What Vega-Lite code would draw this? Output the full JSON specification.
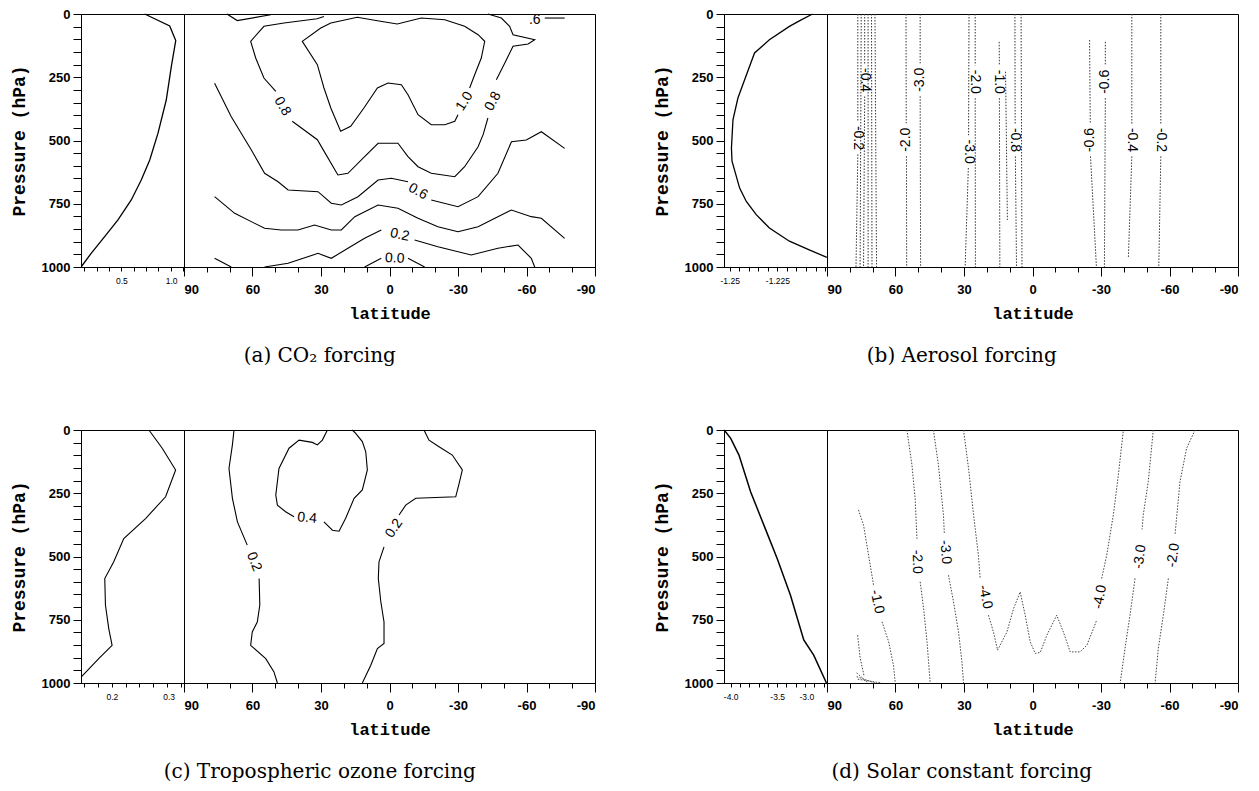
{
  "$schema": "https://vega.github.io/schema/vega-lite/v6.json",
  "background": "white",
  "padding": {"left": 9, "top": 7, "right": 5, "bottom": 5},
  "config": {
    "font": "Liberation Sans",
    "view": {"stroke": "black", "strokeWidth": 1},
    "axis": {"grid": false, "domainColor": "black", "domainWidth": 1, "tickColor": "black", "tickWidth": 1, "labelColor": "black", "titleColor": "black", "labelFont": "Liberation Sans", "labelFontWeight": "bold", "labelFontSize": 13, "labelOverlap": false, "titleFont": "Liberation Mono", "titleFontWeight": "bold"},
    "title": {"font": "DejaVu Serif", "fontSize": 20, "fontWeight": "normal", "color": "black"}
  },
  "datasets": {
    "profiles": [
      {"panel":"a","v":0.689,"p":0},{"panel":"a","v":0.892,"p":47},{"panel":"a","v":0.941,"p":105},{"panel":"a","v":0.905,"p":208},{"panel":"a","v":0.864,"p":340},{"panel":"a","v":0.797,"p":471},{"panel":"a","v":0.730,"p":577},{"panel":"a","v":0.661,"p":656},{"panel":"a","v":0.580,"p":735},{"panel":"a","v":0.472,"p":814},{"panel":"a","v":0.364,"p":880},{"panel":"a","v":0.256,"p":945},{"panel":"a","v":0.174,"p":999},
      {"panel":"b","v":-1.2066,"p":0},{"panel":"b","v":-1.2135,"p":27},{"panel":"b","v":-1.2187,"p":49},{"panel":"b","v":-1.2292,"p":102},{"panel":"b","v":-1.2370,"p":154},{"panel":"b","v":-1.2431,"p":279},{"panel":"b","v":-1.2457,"p":332},{"panel":"b","v":-1.2483,"p":418},{"panel":"b","v":-1.2491,"p":530},{"panel":"b","v":-1.2488,"p":582},{"panel":"b","v":-1.2448,"p":688},{"panel":"b","v":-1.2413,"p":741},{"panel":"b","v":-1.2361,"p":793},{"panel":"b","v":-1.2292,"p":846},{"panel":"b","v":-1.2187,"p":898},{"panel":"b","v":-1.2083,"p":932},{"panel":"b","v":-1.1991,"p":962},
      {"panel":"c","v":0.2539,"p":0},{"panel":"c","v":0.2733,"p":72},{"panel":"c","v":0.2928,"p":158},{"panel":"c","v":0.2782,"p":264},{"panel":"c","v":0.2490,"p":350},{"panel":"c","v":0.2173,"p":429},{"panel":"c","v":0.2027,"p":521},{"panel":"c","v":0.1896,"p":587},{"panel":"c","v":0.1906,"p":692},{"panel":"c","v":0.1954,"p":785},{"panel":"c","v":0.2003,"p":851},{"panel":"c","v":0.1808,"p":904},{"panel":"c","v":0.1555,"p":976},
      {"panel":"d","v":-4.07,"p":0},{"panel":"d","v":-4.0,"p":33},{"panel":"d","v":-3.911,"p":99},{"panel":"d","v":-3.786,"p":244},{"panel":"d","v":-3.643,"p":376},{"panel":"d","v":-3.5,"p":508},{"panel":"d","v":-3.357,"p":653},{"panel":"d","v":-3.214,"p":830},{"panel":"d","v":-3.107,"p":890},{"panel":"d","v":-2.97,"p":1000}
    ],
    "contours": [
      {"panel":"a","line":"a06t","seq":0,"lat":71.2,"p":0},{"panel":"a","line":"a06t","seq":1,"lat":66.7,"p":26},{"panel":"a","line":"a06t","seq":2,"lat":52.0,"p":3},
      {"panel":"a","line":"a06d","seq":0,"lat":-68.0,"p":16},{"panel":"a","line":"a06d","seq":1,"lat":-76.7,"p":16},
      {"panel":"a","line":"a08a","seq":0,"lat":28.7,"p":10},{"panel":"a","line":"a08a","seq":1,"lat":31.7,"p":18.6},{"panel":"a","line":"a08a","seq":2,"lat":46.2,"p":35.6},{"panel":"a","line":"a08a","seq":3,"lat":55.0,"p":48.6},{"panel":"a","line":"a08a","seq":4,"lat":60.8,"p":107.9},{"panel":"a","line":"a08a","seq":5,"lat":58.6,"p":173.9},{"panel":"a","line":"a08a","seq":6,"lat":55.0,"p":253},{"panel":"a","line":"a08a","seq":7,"lat":49.8,"p":305.5},
      {"panel":"a","line":"a08b","seq":0,"lat":42.6,"p":424},{"panel":"a","line":"a08b","seq":1,"lat":31.6,"p":496.8},{"panel":"a","line":"a08b","seq":2,"lat":28.5,"p":545},{"panel":"a","line":"a08b","seq":3,"lat":22.6,"p":636.4},{"panel":"a","line":"a08b","seq":4,"lat":18.2,"p":629.7},{"panel":"a","line":"a08b","seq":5,"lat":10.9,"p":564},{"panel":"a","line":"a08b","seq":6,"lat":5.0,"p":511},{"panel":"a","line":"a08b","seq":7,"lat":-3.7,"p":511},{"panel":"a","line":"a08b","seq":8,"lat":-8.1,"p":564},{"panel":"a","line":"a08b","seq":9,"lat":-12.5,"p":603.6},{"panel":"a","line":"a08b","seq":10,"lat":-18.3,"p":629.7},{"panel":"a","line":"a08b","seq":11,"lat":-28.6,"p":643},{"panel":"a","line":"a08b","seq":12,"lat":-32.9,"p":603.6},{"panel":"a","line":"a08b","seq":13,"lat":-38.8,"p":524.5},{"panel":"a","line":"a08b","seq":14,"lat":-41.0,"p":477},{"panel":"a","line":"a08b","seq":15,"lat":-43.1,"p":411},
      {"panel":"a","line":"a08c","seq":0,"lat":-46.8,"p":259.7},{"panel":"a","line":"a08c","seq":1,"lat":-50.5,"p":193.7},{"panel":"a","line":"a08c","seq":2,"lat":-54.1,"p":127.7},{"panel":"a","line":"a08c","seq":3,"lat":-60.7,"p":118.6},{"panel":"a","line":"a08c","seq":4,"lat":-63.6,"p":101.6},{"panel":"a","line":"a08c","seq":5,"lat":-54.1,"p":81.8},{"panel":"a","line":"a08c","seq":6,"lat":-52.6,"p":48.6},{"panel":"a","line":"a08c","seq":7,"lat":-49.0,"p":15.8},{"panel":"a","line":"a08c","seq":8,"lat":-43.1,"p":0},
      {"panel":"a","line":"a10","seq":0,"lat":-30.0,"p":398},{"panel":"a","line":"a10","seq":1,"lat":-28.6,"p":424},{"panel":"a","line":"a10","seq":2,"lat":-24.2,"p":437.6},{"panel":"a","line":"a10","seq":3,"lat":-18.3,"p":437.6},{"panel":"a","line":"a10","seq":4,"lat":-12.5,"p":398},{"panel":"a","line":"a10","seq":5,"lat":-8.1,"p":319},{"panel":"a","line":"a10","seq":6,"lat":-5.2,"p":279.5},{"panel":"a","line":"a10","seq":7,"lat":0.65,"p":272.7},{"panel":"a","line":"a10","seq":8,"lat":5.3,"p":292.5},{"panel":"a","line":"a10","seq":9,"lat":11.2,"p":371.5},{"panel":"a","line":"a10","seq":10,"lat":17.0,"p":444},{"panel":"a","line":"a10","seq":11,"lat":21.4,"p":463.6},{"panel":"a","line":"a10","seq":12,"lat":25.7,"p":371.5},{"panel":"a","line":"a10","seq":13,"lat":28.7,"p":292.5},{"panel":"a","line":"a10","seq":14,"lat":31.6,"p":200.4},{"panel":"a","line":"a10","seq":15,"lat":38.2,"p":107.9},{"panel":"a","line":"a10","seq":16,"lat":30.1,"p":55.3},{"panel":"a","line":"a10","seq":17,"lat":25.7,"p":35.6},{"panel":"a","line":"a10","seq":18,"lat":14.1,"p":13},{"panel":"a","line":"a10","seq":19,"lat":5.3,"p":26.5},{"panel":"a","line":"a10","seq":20,"lat":-3.4,"p":39.5},{"panel":"a","line":"a10","seq":21,"lat":-13.9,"p":15.8},{"panel":"a","line":"a10","seq":22,"lat":-24.2,"p":22.5},{"panel":"a","line":"a10","seq":23,"lat":-32.9,"p":48.6},{"panel":"a","line":"a10","seq":24,"lat":-38.8,"p":81.8},{"panel":"a","line":"a10","seq":25,"lat":-41.7,"p":107.9},{"panel":"a","line":"a10","seq":26,"lat":-40.2,"p":173.9},{"panel":"a","line":"a10","seq":27,"lat":-37.3,"p":240},{"panel":"a","line":"a10","seq":28,"lat":-35.1,"p":292.5},
      {"panel":"a","line":"a06a","seq":0,"lat":76.6,"p":274},{"panel":"a","line":"a06a","seq":1,"lat":69.3,"p":406},{"panel":"a","line":"a06a","seq":2,"lat":60.5,"p":537.6},{"panel":"a","line":"a06a","seq":3,"lat":54.7,"p":629.7},{"panel":"a","line":"a06a","seq":4,"lat":48.8,"p":663},{"panel":"a","line":"a06a","seq":5,"lat":44.4,"p":695.7},{"panel":"a","line":"a06a","seq":6,"lat":31.3,"p":702.4},{"panel":"a","line":"a06a","seq":7,"lat":25.5,"p":748},{"panel":"a","line":"a06a","seq":8,"lat":21.1,"p":755},{"panel":"a","line":"a06a","seq":9,"lat":13.8,"p":722},{"panel":"a","line":"a06a","seq":10,"lat":5.0,"p":656},{"panel":"a","line":"a06a","seq":11,"lat":-0.8,"p":649.4},{"panel":"a","line":"a06a","seq":12,"lat":-8.1,"p":663},
      {"panel":"a","line":"a06b","seq":0,"lat":-18.3,"p":735},{"panel":"a","line":"a06b","seq":1,"lat":-30.0,"p":761.7},{"panel":"a","line":"a06b","seq":2,"lat":-38.8,"p":722},{"panel":"a","line":"a06b","seq":3,"lat":-47.5,"p":629.7},{"panel":"a","line":"a06b","seq":4,"lat":-53.4,"p":504.8},{"panel":"a","line":"a06b","seq":5,"lat":-59.9,"p":498},{"panel":"a","line":"a06b","seq":6,"lat":-66.5,"p":465.2},{"panel":"a","line":"a06b","seq":7,"lat":-76.7,"p":531},
      {"panel":"a","line":"a04","seq":0,"lat":76.6,"p":722},{"panel":"a","line":"a04","seq":1,"lat":67.8,"p":788},{"panel":"a","line":"a04","seq":2,"lat":54.7,"p":847},{"panel":"a","line":"a04","seq":3,"lat":47.4,"p":853.8},{"panel":"a","line":"a04","seq":4,"lat":40.1,"p":853.8},{"panel":"a","line":"a04","seq":5,"lat":32.8,"p":834},{"panel":"a","line":"a04","seq":6,"lat":25.5,"p":853.8},{"panel":"a","line":"a04","seq":7,"lat":21.1,"p":853.8},{"panel":"a","line":"a04","seq":8,"lat":15.2,"p":801},{"panel":"a","line":"a04","seq":9,"lat":5.0,"p":755},{"panel":"a","line":"a04","seq":10,"lat":-3.7,"p":768},{"panel":"a","line":"a04","seq":11,"lat":-12.5,"p":807.5},{"panel":"a","line":"a04","seq":12,"lat":-21.2,"p":840.7},{"panel":"a","line":"a04","seq":13,"lat":-30.0,"p":860.5},{"panel":"a","line":"a04","seq":14,"lat":-38.8,"p":840.7},{"panel":"a","line":"a04","seq":15,"lat":-53.4,"p":774.7},{"panel":"a","line":"a04","seq":16,"lat":-62.1,"p":801},{"panel":"a","line":"a04","seq":17,"lat":-66.5,"p":807.5},{"panel":"a","line":"a04","seq":18,"lat":-76.7,"p":886.6},
      {"panel":"a","line":"a02a","seq":0,"lat":54.7,"p":1000},{"panel":"a","line":"a02a","seq":1,"lat":44.4,"p":985.4},{"panel":"a","line":"a02a","seq":2,"lat":31.3,"p":946},{"panel":"a","line":"a02a","seq":3,"lat":25.5,"p":965.6},{"panel":"a","line":"a02a","seq":4,"lat":18.2,"p":926},{"panel":"a","line":"a02a","seq":5,"lat":10.9,"p":886.6},{"panel":"a","line":"a02a","seq":6,"lat":3.6,"p":853.8},
      {"panel":"a","line":"a02b","seq":0,"lat":-11.0,"p":893.3},{"panel":"a","line":"a02b","seq":1,"lat":-21.2,"p":920},{"panel":"a","line":"a02b","seq":2,"lat":-35.8,"p":952.6},{"panel":"a","line":"a02b","seq":3,"lat":-47.5,"p":926},{"panel":"a","line":"a02b","seq":4,"lat":-56.3,"p":913},{"panel":"a","line":"a02b","seq":5,"lat":-62.1,"p":965.6},{"panel":"a","line":"a02b","seq":6,"lat":-63.6,"p":1000},
      {"panel":"a","line":"a02s","seq":0,"lat":76.6,"p":965.6},{"panel":"a","line":"a02s","seq":1,"lat":69.3,"p":1000},
      {"panel":"a","line":"a00a","seq":0,"lat":10.9,"p":1000},{"panel":"a","line":"a00a","seq":1,"lat":3.6,"p":965.6},
      {"panel":"a","line":"a00b","seq":0,"lat":-8.1,"p":965.6},{"panel":"a","line":"a00b","seq":1,"lat":-15.4,"p":1000},

      {"panel":"b","line":"b1a","seq":0,"lat":76.5,"p":0},{"panel":"b","line":"b1a","seq":1,"lat":76.5,"p":425},
      {"panel":"b","line":"b1b","seq":0,"lat":76.5,"p":555},{"panel":"b","line":"b1b","seq":1,"lat":77.3,"p":1000},
      {"panel":"b","line":"b2","seq":0,"lat":75.0,"p":0},{"panel":"b","line":"b2","seq":1,"lat":75.5,"p":1000},
      {"panel":"b","line":"b3a","seq":0,"lat":73.5,"p":0},{"panel":"b","line":"b3a","seq":1,"lat":73.5,"p":196},
      {"panel":"b","line":"b3b","seq":0,"lat":73.5,"p":326},{"panel":"b","line":"b3b","seq":1,"lat":74.0,"p":1000},
      {"panel":"b","line":"b4","seq":0,"lat":72.0,"p":0},{"panel":"b","line":"b4","seq":1,"lat":72.0,"p":1000},
      {"panel":"b","line":"b5","seq":0,"lat":70.5,"p":0},{"panel":"b","line":"b5","seq":1,"lat":70.3,"p":1000},
      {"panel":"b","line":"b6","seq":0,"lat":69.0,"p":0},{"panel":"b","line":"b6","seq":1,"lat":68.3,"p":1000},
      {"panel":"b","line":"b7a","seq":0,"lat":55.4,"p":0},{"panel":"b","line":"b7a","seq":1,"lat":55.3,"p":432},
      {"panel":"b","line":"b7b","seq":0,"lat":55.2,"p":562},{"panel":"b","line":"b7b","seq":1,"lat":55.1,"p":1000},
      {"panel":"b","line":"b8a","seq":0,"lat":49.2,"p":0},{"panel":"b","line":"b8a","seq":1,"lat":49.2,"p":195},
      {"panel":"b","line":"b8b","seq":0,"lat":49.2,"p":325},{"panel":"b","line":"b8b","seq":1,"lat":49.0,"p":1000},
      {"panel":"b","line":"b9a","seq":0,"lat":27.8,"p":0},{"panel":"b","line":"b9a","seq":1,"lat":28.0,"p":479},
      {"panel":"b","line":"b9b","seq":0,"lat":28.1,"p":609},{"panel":"b","line":"b9b","seq":1,"lat":29.5,"p":1000},
      {"panel":"b","line":"b10a","seq":0,"lat":25.1,"p":0},{"panel":"b","line":"b10a","seq":1,"lat":25.1,"p":203},
      {"panel":"b","line":"b10b","seq":0,"lat":25.1,"p":333},{"panel":"b","line":"b10b","seq":1,"lat":25.0,"p":1000},
      {"panel":"b","line":"b11a","seq":0,"lat":14.6,"p":110},{"panel":"b","line":"b11a","seq":1,"lat":14.5,"p":203},
      {"panel":"b","line":"b11b","seq":0,"lat":14.5,"p":333},{"panel":"b","line":"b11b","seq":1,"lat":14.3,"p":1000},
      {"panel":"b","line":"b12","seq":0,"lat":11.8,"p":228},{"panel":"b","line":"b12","seq":1,"lat":11.0,"p":814},
      {"panel":"b","line":"b13a","seq":0,"lat":7.7,"p":0},{"panel":"b","line":"b13a","seq":1,"lat":7.6,"p":433},
      {"panel":"b","line":"b13b","seq":0,"lat":7.5,"p":563},{"panel":"b","line":"b13b","seq":1,"lat":7.0,"p":1000},
      {"panel":"b","line":"b14","seq":0,"lat":5.0,"p":0},{"panel":"b","line":"b14","seq":1,"lat":4.6,"p":1000},
      {"panel":"b","line":"b15a","seq":0,"lat":-25.0,"p":103},{"panel":"b","line":"b15a","seq":1,"lat":-25.3,"p":433},
      {"panel":"b","line":"b15b","seq":0,"lat":-25.4,"p":563},{"panel":"b","line":"b15b","seq":1,"lat":-28.0,"p":1000},
      {"panel":"b","line":"b16a","seq":0,"lat":-31.9,"p":110},{"panel":"b","line":"b16a","seq":1,"lat":-31.9,"p":203},
      {"panel":"b","line":"b16b","seq":0,"lat":-31.9,"p":333},{"panel":"b","line":"b16b","seq":1,"lat":-31.5,"p":1000},
      {"panel":"b","line":"b17a","seq":0,"lat":-43.5,"p":0},{"panel":"b","line":"b17a","seq":1,"lat":-43.5,"p":433},
      {"panel":"b","line":"b17b","seq":0,"lat":-43.5,"p":563},{"panel":"b","line":"b17b","seq":1,"lat":-42.0,"p":960},
      {"panel":"b","line":"b18a","seq":0,"lat":-56.2,"p":0},{"panel":"b","line":"b18a","seq":1,"lat":-56.2,"p":433},
      {"panel":"b","line":"b18b","seq":0,"lat":-56.2,"p":563},{"panel":"b","line":"b18b","seq":1,"lat":-55.3,"p":1000},

      {"panel":"c","line":"c02a","seq":0,"lat":68.1,"p":0},{"panel":"c","line":"c02a","seq":1,"lat":68.8,"p":59},{"panel":"c","line":"c02a","seq":2,"lat":70.3,"p":152},{"panel":"c","line":"c02a","seq":3,"lat":68.8,"p":270},{"panel":"c","line":"c02a","seq":4,"lat":66.6,"p":363},{"panel":"c","line":"c02a","seq":5,"lat":62.3,"p":455},
      {"panel":"c","line":"c02b","seq":0,"lat":57.1,"p":587},{"panel":"c","line":"c02b","seq":1,"lat":56.8,"p":692},{"panel":"c","line":"c02b","seq":2,"lat":57.9,"p":759},{"panel":"c","line":"c02b","seq":3,"lat":60.1,"p":798},{"panel":"c","line":"c02b","seq":4,"lat":60.8,"p":851},{"panel":"c","line":"c02b","seq":5,"lat":54.2,"p":904},{"panel":"c","line":"c02b","seq":6,"lat":50.6,"p":956},{"panel":"c","line":"c02b","seq":7,"lat":49.1,"p":1000},
      {"panel":"c","line":"c04a","seq":0,"lat":16.3,"p":0},{"panel":"c","line":"c04a","seq":1,"lat":14.8,"p":13},{"panel":"c","line":"c04a","seq":2,"lat":11.9,"p":46},{"panel":"c","line":"c04a","seq":3,"lat":10.4,"p":86},{"panel":"c","line":"c04a","seq":4,"lat":9.7,"p":158},{"panel":"c","line":"c04a","seq":5,"lat":11.9,"p":237},{"panel":"c","line":"c04a","seq":6,"lat":15.5,"p":270},{"panel":"c","line":"c04a","seq":7,"lat":19.2,"p":349},{"panel":"c","line":"c04a","seq":8,"lat":22.1,"p":400},{"panel":"c","line":"c04a","seq":9,"lat":25.0,"p":396},{"panel":"c","line":"c04a","seq":10,"lat":28.7,"p":363},
      {"panel":"c","line":"c04b","seq":0,"lat":41.8,"p":343},{"panel":"c","line":"c04b","seq":1,"lat":45.5,"p":323},{"panel":"c","line":"c04b","seq":2,"lat":49.1,"p":297},{"panel":"c","line":"c04b","seq":3,"lat":49.8,"p":257},{"panel":"c","line":"c04b","seq":4,"lat":48.4,"p":152},{"panel":"c","line":"c04b","seq":5,"lat":44.0,"p":72},{"panel":"c","line":"c04b","seq":6,"lat":39.6,"p":40},{"panel":"c","line":"c04b","seq":7,"lat":33.8,"p":49},{"panel":"c","line":"c04b","seq":8,"lat":31.6,"p":59},{"panel":"c","line":"c04b","seq":9,"lat":29.4,"p":40},{"panel":"c","line":"c04b","seq":10,"lat":27.9,"p":13},{"panel":"c","line":"c04b","seq":11,"lat":27.2,"p":0},
      {"panel":"c","line":"c02c","seq":0,"lat":-15.1,"p":0},{"panel":"c","line":"c02c","seq":1,"lat":-17.3,"p":40},{"panel":"c","line":"c02c","seq":2,"lat":-21.7,"p":66},{"panel":"c","line":"c02c","seq":3,"lat":-27.5,"p":99},{"panel":"c","line":"c02c","seq":4,"lat":-31.9,"p":158},{"panel":"c","line":"c02c","seq":5,"lat":-30.5,"p":211},{"panel":"c","line":"c02c","seq":6,"lat":-29.0,"p":264},{"panel":"c","line":"c02c","seq":7,"lat":-11.5,"p":270},{"panel":"c","line":"c02c","seq":8,"lat":-7.1,"p":297},{"panel":"c","line":"c02c","seq":9,"lat":-4.2,"p":336},
      {"panel":"c","line":"c02d","seq":0,"lat":2.4,"p":462},{"panel":"c","line":"c02d","seq":1,"lat":4.6,"p":521},{"panel":"c","line":"c02d","seq":2,"lat":4.9,"p":587},{"panel":"c","line":"c02d","seq":3,"lat":3.8,"p":679},{"panel":"c","line":"c02d","seq":4,"lat":2.4,"p":759},{"panel":"c","line":"c02d","seq":5,"lat":2.4,"p":844},{"panel":"c","line":"c02d","seq":6,"lat":5.3,"p":864},{"panel":"c","line":"c02d","seq":7,"lat":8.2,"p":930},{"panel":"c","line":"c02d","seq":8,"lat":11.9,"p":1000},

      {"panel":"d","line":"d1a","seq":0,"lat":76.2,"p":316},{"panel":"d","line":"d1a","seq":1,"lat":74.0,"p":376},{"panel":"d","line":"d1a","seq":2,"lat":71.8,"p":495},{"panel":"d","line":"d1a","seq":3,"lat":69.6,"p":613},
      {"panel":"d","line":"d1b","seq":0,"lat":65.9,"p":758},{"panel":"d","line":"d1b","seq":1,"lat":63.0,"p":837},{"panel":"d","line":"d1b","seq":2,"lat":60.9,"p":930},{"panel":"d","line":"d1b","seq":3,"lat":60.1,"p":1000},
      {"panel":"d","line":"d2a","seq":0,"lat":55.0,"p":0},{"panel":"d","line":"d2a","seq":1,"lat":52.8,"p":138},{"panel":"d","line":"d2a","seq":2,"lat":51.4,"p":270},{"panel":"d","line":"d2a","seq":3,"lat":50.6,"p":430},
      {"panel":"d","line":"d2b","seq":0,"lat":49.2,"p":600},{"panel":"d","line":"d2b","seq":1,"lat":47.7,"p":705},{"panel":"d","line":"d2b","seq":2,"lat":46.2,"p":837},{"panel":"d","line":"d2b","seq":3,"lat":44.8,"p":1000},
      {"panel":"d","line":"d3a","seq":0,"lat":43.4,"p":0},{"panel":"d","line":"d3a","seq":1,"lat":41.2,"p":138},{"panel":"d","line":"d3a","seq":2,"lat":39.0,"p":336},{"panel":"d","line":"d3a","seq":3,"lat":38.6,"p":410},
      {"panel":"d","line":"d3b","seq":0,"lat":36.8,"p":574},{"panel":"d","line":"d3b","seq":1,"lat":34.6,"p":679},{"panel":"d","line":"d3b","seq":2,"lat":32.4,"p":798},{"panel":"d","line":"d3b","seq":3,"lat":30.9,"p":917},{"panel":"d","line":"d3b","seq":4,"lat":30.2,"p":1000},
      {"panel":"d","line":"d4a","seq":0,"lat":30.2,"p":0},{"panel":"d","line":"d4a","seq":1,"lat":28.0,"p":152},{"panel":"d","line":"d4a","seq":2,"lat":25.8,"p":336},{"panel":"d","line":"d4a","seq":3,"lat":23.7,"p":495},{"panel":"d","line":"d4a","seq":4,"lat":22.9,"p":587},
      {"panel":"d","line":"d4b","seq":0,"lat":19.3,"p":732},{"panel":"d","line":"d4b","seq":1,"lat":17.1,"p":798},{"panel":"d","line":"d4b","seq":2,"lat":15.3,"p":870},{"panel":"d","line":"d4b","seq":3,"lat":11.2,"p":798},{"panel":"d","line":"d4b","seq":4,"lat":8.3,"p":706},{"panel":"d","line":"d4b","seq":5,"lat":5.4,"p":640},{"panel":"d","line":"d4b","seq":6,"lat":3.2,"p":732},{"panel":"d","line":"d4b","seq":7,"lat":1.0,"p":837},{"panel":"d","line":"d4b","seq":8,"lat":-1.2,"p":883},{"panel":"d","line":"d4b","seq":9,"lat":-3.4,"p":879},{"panel":"d","line":"d4b","seq":10,"lat":-6.3,"p":811},{"panel":"d","line":"d4b","seq":11,"lat":-10.6,"p":732},{"panel":"d","line":"d4b","seq":12,"lat":-13.5,"p":798},{"panel":"d","line":"d4b","seq":13,"lat":-16.5,"p":877},{"panel":"d","line":"d4b","seq":14,"lat":-20.8,"p":877},{"panel":"d","line":"d4b","seq":15,"lat":-23.8,"p":851},{"panel":"d","line":"d4b","seq":16,"lat":-26.7,"p":785},{"panel":"d","line":"d4b","seq":17,"lat":-28.1,"p":752},
      {"panel":"d","line":"d4c","seq":0,"lat":-30.3,"p":587},{"panel":"d","line":"d4c","seq":1,"lat":-32.5,"p":495},{"panel":"d","line":"d4c","seq":2,"lat":-35.4,"p":336},{"panel":"d","line":"d4c","seq":3,"lat":-37.6,"p":178},{"panel":"d","line":"d4c","seq":4,"lat":-39.8,"p":0},
      {"panel":"d","line":"d5a","seq":0,"lat":-52.9,"p":0},{"panel":"d","line":"d5a","seq":1,"lat":-50.7,"p":204},{"panel":"d","line":"d5a","seq":2,"lat":-48.5,"p":336},{"panel":"d","line":"d5a","seq":3,"lat":-48.0,"p":393},
      {"panel":"d","line":"d5b","seq":0,"lat":-44.9,"p":587},{"panel":"d","line":"d5b","seq":1,"lat":-42.7,"p":732},{"panel":"d","line":"d5b","seq":2,"lat":-40.5,"p":864},{"panel":"d","line":"d5b","seq":3,"lat":-38.4,"p":1000},
      {"panel":"d","line":"d6a","seq":0,"lat":-71.2,"p":0},{"panel":"d","line":"d6a","seq":1,"lat":-67.5,"p":72},{"panel":"d","line":"d6a","seq":2,"lat":-64.6,"p":204},{"panel":"d","line":"d6a","seq":3,"lat":-62.4,"p":415},
      {"panel":"d","line":"d6b","seq":0,"lat":-59.5,"p":587},{"panel":"d","line":"d6b","seq":1,"lat":-57.3,"p":732},{"panel":"d","line":"d6b","seq":2,"lat":-55.1,"p":864},{"panel":"d","line":"d6b","seq":3,"lat":-53.7,"p":1000},
      {"panel":"d","line":"d7","seq":0,"lat":76.6,"p":811},{"panel":"d","line":"d7","seq":1,"lat":75.5,"p":900},{"panel":"d","line":"d7","seq":2,"lat":73.7,"p":975},
      {"panel":"d","line":"d8","seq":0,"lat":77.0,"p":960},{"panel":"d","line":"d8","seq":1,"lat":72.0,"p":1000},
      {"panel":"d","line":"d9","seq":0,"lat":77.0,"p":975},{"panel":"d","line":"d9","seq":1,"lat":69.0,"p":1000},
      {"panel":"d","line":"d10","seq":0,"lat":76.5,"p":985},{"panel":"d","line":"d10","seq":1,"lat":66.0,"p":1000}
    ],
    "labels": [
      {"panel":"a","text":"0.8","lat":46.9,"p":365,"angle":60},
      {"panel":"a","text":"0.8","lat":-45.3,"p":345,"angle":-62},
      {"panel":"a","text":"1.0","lat":-32.9,"p":345,"angle":-58},
      {"panel":"a","text":"0.6","lat":-12.5,"p":702,"angle":30},
      {"panel":"a","text":"0.2","lat":-4.5,"p":873,"angle":12},
      {"panel":"a","text":"0.0","lat":-2.3,"p":966,"angle":3},
      {"panel":"a","text":".6","lat":-63.6,"p":22,"angle":0},
      {"panel":"b","text":"-0.2","lat":76.5,"p":490,"angle":90},
      {"panel":"b","text":"-0.4","lat":73.5,"p":261,"angle":90},
      {"panel":"b","text":"-2.0","lat":55.3,"p":497,"angle":-90},
      {"panel":"b","text":"-3.0","lat":49.2,"p":260,"angle":-90},
      {"panel":"b","text":"-3.0","lat":28.0,"p":544,"angle":90},
      {"panel":"b","text":"-2.0","lat":25.1,"p":268,"angle":90},
      {"panel":"b","text":"-1.0","lat":14.5,"p":268,"angle":90},
      {"panel":"b","text":"-0.8","lat":7.5,"p":498,"angle":90},
      {"panel":"b","text":"-0.6","lat":-25.3,"p":498,"angle":-90},
      {"panel":"b","text":"-0.6","lat":-31.9,"p":268,"angle":-90},
      {"panel":"b","text":"-0.4","lat":-43.5,"p":498,"angle":90},
      {"panel":"b","text":"-0.2","lat":-56.2,"p":498,"angle":90},
      {"panel":"c","text":"0.2","lat":59.3,"p":521,"angle":68},
      {"panel":"c","text":"0.4","lat":36.1,"p":348,"angle":5},
      {"panel":"c","text":"0.2","lat":-2.0,"p":389,"angle":-56},
      {"panel":"d","text":"-1.0","lat":68.1,"p":679,"angle":78},
      {"panel":"d","text":"-2.0","lat":50.6,"p":521,"angle":88},
      {"panel":"d","text":"-3.0","lat":38.2,"p":483,"angle":85},
      {"panel":"d","text":"-4.0","lat":20.7,"p":660,"angle":78},
      {"panel":"d","text":"-4.0","lat":-29.6,"p":660,"angle":-80},
      {"panel":"d","text":"-3.0","lat":-47.1,"p":501,"angle":-82},
      {"panel":"d","text":"-2.0","lat":-61.7,"p":495,"angle":-82}
    ]
  },
  "spacing": 57,
  "vconcat": [
    {
      "spacing": 56,
      "hconcat": [
        {
          "title": {"text": "(a) CO₂ forcing", "orient": "bottom", "anchor": "middle", "offset": 24, "dx": 17},
          "bounds": "flush",
          "spacing": 0,
          "hconcat": [
            {
              "width": 103, "height": 253,
              "data": {"name": "profiles"},
              "transform": [{"filter": "datum.panel === 'a'"}],
              "mark": {"type": "line", "color": "black", "strokeWidth": 1.3},
              "encoding": {
                "x": {"field": "v", "type": "quantitative", "scale": {"domain": [0.172, 1.008], "nice": false, "zero": false},
                      "axis": {"title": null, "values": [0.2,0.3,0.4,0.5,0.6,0.7,0.8,0.9,1.0], "labelExpr": "datum.value === 0.5 || datum.value === 1 ? format(datum.value, '.1f') : ''", "labelFontSize": 8.5, "labelFontWeight": "normal", "tickSize": 4, "labelPadding": 5, "labelFlush": 5, "labelFlushOffset": -6}},
                "y": {"field": "p", "type": "quantitative", "scale": {"domain": [0, 1000], "reverse": true, "nice": false, "zero": false},
                      "axis": {"title": "Pressure (hPa)", "titleFontSize": 18, "titlePadding": 13, "values": [0,50,100,150,200,250,300,350,400,450,500,550,600,650,700,750,800,850,900,950,1000], "labelExpr": "datum.value % 250 === 0 ? toString(datum.value) : ''", "tickSize": 8, "labelPadding": 3}},
                "order": {"field": "p", "type": "quantitative"}
              }
            },
            {
              "width": 411, "height": 253,
              "encoding": {
                "x": {"field": "lat", "type": "quantitative", "scale": {"domain": [90, -90], "nice": false, "zero": false},
                      "axis": {"title": "latitude", "titleFontSize": 17, "titlePadding": 9, "values": [90,80,70,60,50,40,30,20,10,0,-10,-20,-30,-40,-50,-60,-70,-80,-90], "labelExpr": "datum.value % 30 === 0 ? toString(datum.value) : ''", "tickSize": {"condition": {"test": "datum.value % 30 === 0", "value": 9}, "value": 5}, "labelFlush": true, "labelPadding": 7}},
                "y": {"field": "p", "type": "quantitative", "scale": {"domain": [0, 1000], "reverse": true, "nice": false, "zero": false}, "axis": null}
              },
              "layer": [
                {"data": {"name": "contours"}, "transform": [{"filter": "datum.panel === 'a'"}], "mark": {"type": "line", "color": "black", "strokeWidth": 1.1}, "encoding": {"detail": {"field": "line"}, "order": {"field": "seq", "type": "quantitative"}}},
                {"data": {"name": "labels"}, "transform": [{"filter": "datum.panel === 'a'"}], "mark": {"type": "text", "font": "Liberation Sans", "fontSize": 14, "color": "black"}, "encoding": {"text": {"field": "text"}, "angle": {"field": "angle", "type": "quantitative", "scale": null}}}
              ]
            }
          ]
        },
        {
          "title": {"text": "(b) Aerosol forcing", "orient": "bottom", "anchor": "middle", "offset": 24, "dx": 16},
          "bounds": "flush",
          "spacing": 0,
          "hconcat": [
            {
              "width": 103, "height": 253,
              "data": {"name": "profiles"},
              "transform": [{"filter": "datum.panel === 'b'"}],
              "mark": {"type": "line", "color": "black", "strokeWidth": 1.3},
              "encoding": {
                "x": {"field": "v", "type": "quantitative", "scale": {"domain": [-1.253, -1.199], "nice": false, "zero": false},
                      "axis": {"title": null, "values": [-1.25,-1.245,-1.24,-1.235,-1.23,-1.225,-1.22,-1.215,-1.21,-1.205,-1.2], "labelExpr": "datum.value === -1.25 || datum.value === -1.225 ? toString(datum.value) : ''", "labelFontSize": 8.5, "labelFontWeight": "normal", "tickSize": 4, "labelPadding": 5, "labelFlush": false}},
                "y": {"field": "p", "type": "quantitative", "scale": {"domain": [0, 1000], "reverse": true, "nice": false, "zero": false},
                      "axis": {"title": "Pressure (hPa)", "titleFontSize": 18, "titlePadding": 13, "values": [0,50,100,150,200,250,300,350,400,450,500,550,600,650,700,750,800,850,900,950,1000], "labelExpr": "datum.value % 250 === 0 ? toString(datum.value) : ''", "tickSize": 8, "labelPadding": 3}},
                "order": {"field": "p", "type": "quantitative"}
              }
            },
            {
              "width": 411, "height": 253,
              "encoding": {
                "x": {"field": "lat", "type": "quantitative", "scale": {"domain": [90, -90], "nice": false, "zero": false},
                      "axis": {"title": "latitude", "titleFontSize": 17, "titlePadding": 9, "values": [90,80,70,60,50,40,30,20,10,0,-10,-20,-30,-40,-50,-60,-70,-80,-90], "labelExpr": "datum.value % 30 === 0 ? toString(datum.value) : ''", "tickSize": {"condition": {"test": "datum.value % 30 === 0", "value": 9}, "value": 5}, "labelFlush": true, "labelPadding": 7}},
                "y": {"field": "p", "type": "quantitative", "scale": {"domain": [0, 1000], "reverse": true, "nice": false, "zero": false}, "axis": null}
              },
              "layer": [
                {"data": {"name": "contours"}, "transform": [{"filter": "datum.panel === 'b'"}], "mark": {"type": "line", "color": "#333333", "strokeWidth": 1, "strokeDash": [1.5, 1.5]}, "encoding": {"detail": {"field": "line"}, "order": {"field": "seq", "type": "quantitative"}}},
                {"data": {"name": "labels"}, "transform": [{"filter": "datum.panel === 'b'"}], "mark": {"type": "text", "font": "Liberation Sans", "fontSize": 14, "color": "black"}, "encoding": {"text": {"field": "text"}, "angle": {"field": "angle", "type": "quantitative", "scale": null}}}
              ]
            }
          ]
        }
      ]
    },
    {
      "spacing": 56,
      "hconcat": [
        {
          "title": {"text": "(c) Tropospheric ozone forcing", "orient": "bottom", "anchor": "middle", "offset": 24, "dx": 17},
          "bounds": "flush",
          "spacing": 0,
          "hconcat": [
            {
              "width": 103, "height": 253,
              "data": {"name": "profiles"},
              "transform": [{"filter": "datum.panel === 'c'"}],
              "mark": {"type": "line", "color": "black", "strokeWidth": 1.1},
              "encoding": {
                "x": {"field": "v", "type": "quantitative", "scale": {"domain": [0.155, 0.305], "nice": false, "zero": false},
                      "axis": {"title": null, "values": [0.16,0.18,0.2,0.22,0.24,0.26,0.28,0.3], "labelExpr": "datum.value === 0.2 || datum.value === 0.3 ? toString(datum.value) : ''", "labelFontSize": 8.5, "labelFontWeight": "normal", "tickSize": 4, "labelPadding": 5, "labelFlush": 5, "labelFlushOffset": -6}},
                "y": {"field": "p", "type": "quantitative", "scale": {"domain": [0, 1000], "reverse": true, "nice": false, "zero": false},
                      "axis": {"title": "Pressure (hPa)", "titleFontSize": 18, "titlePadding": 13, "values": [0,50,100,150,200,250,300,350,400,450,500,550,600,650,700,750,800,850,900,950,1000], "labelExpr": "datum.value % 250 === 0 ? toString(datum.value) : ''", "tickSize": 8, "labelPadding": 3}},
                "order": {"field": "p", "type": "quantitative"}
              }
            },
            {
              "width": 411, "height": 253,
              "encoding": {
                "x": {"field": "lat", "type": "quantitative", "scale": {"domain": [90, -90], "nice": false, "zero": false},
                      "axis": {"title": "latitude", "titleFontSize": 17, "titlePadding": 9, "values": [90,80,70,60,50,40,30,20,10,0,-10,-20,-30,-40,-50,-60,-70,-80,-90], "labelExpr": "datum.value % 30 === 0 ? toString(datum.value) : ''", "tickSize": {"condition": {"test": "datum.value % 30 === 0", "value": 9}, "value": 5}, "labelFlush": true, "labelPadding": 7}},
                "y": {"field": "p", "type": "quantitative", "scale": {"domain": [0, 1000], "reverse": true, "nice": false, "zero": false}, "axis": null}
              },
              "layer": [
                {"data": {"name": "contours"}, "transform": [{"filter": "datum.panel === 'c'"}], "mark": {"type": "line", "color": "black", "strokeWidth": 1.1}, "encoding": {"detail": {"field": "line"}, "order": {"field": "seq", "type": "quantitative"}}},
                {"data": {"name": "labels"}, "transform": [{"filter": "datum.panel === 'c'"}], "mark": {"type": "text", "font": "Liberation Sans", "fontSize": 14, "color": "black"}, "encoding": {"text": {"field": "text"}, "angle": {"field": "angle", "type": "quantitative", "scale": null}}}
              ]
            }
          ]
        },
        {
          "title": {"text": "(d) Solar constant forcing", "orient": "bottom", "anchor": "middle", "offset": 24, "dx": 16},
          "bounds": "flush",
          "spacing": 0,
          "hconcat": [
            {
              "width": 103, "height": 253,
              "data": {"name": "profiles"},
              "transform": [{"filter": "datum.panel === 'd'"}],
              "mark": {"type": "line", "color": "black", "strokeWidth": 1.5},
              "encoding": {
                "x": {"field": "v", "type": "quantitative", "scale": {"domain": [-4.072, -2.964], "nice": false, "zero": false},
                      "axis": {"title": null, "values": [-4.0,-3.9,-3.8,-3.7,-3.6,-3.5,-3.4,-3.3,-3.2,-3.1,-3.0], "labelExpr": "datum.value === -4 || datum.value === -3.5 || datum.value === -3 ? replace(format(datum.value, '.1f'), '\u2212', '-') : ''", "labelFontSize": 8.5, "labelFontWeight": "normal", "tickSize": 4, "labelPadding": 5, "labelFlush": 5, "labelFlushOffset": -10}},
                "y": {"field": "p", "type": "quantitative", "scale": {"domain": [0, 1000], "reverse": true, "nice": false, "zero": false},
                      "axis": {"title": "Pressure (hPa)", "titleFontSize": 18, "titlePadding": 13, "values": [0,50,100,150,200,250,300,350,400,450,500,550,600,650,700,750,800,850,900,950,1000], "labelExpr": "datum.value % 250 === 0 ? toString(datum.value) : ''", "tickSize": 8, "labelPadding": 3}},
                "order": {"field": "p", "type": "quantitative"}
              }
            },
            {
              "width": 411, "height": 253,
              "encoding": {
                "x": {"field": "lat", "type": "quantitative", "scale": {"domain": [90, -90], "nice": false, "zero": false},
                      "axis": {"title": "latitude", "titleFontSize": 17, "titlePadding": 9, "values": [90,80,70,60,50,40,30,20,10,0,-10,-20,-30,-40,-50,-60,-70,-80,-90], "labelExpr": "datum.value % 30 === 0 ? toString(datum.value) : ''", "tickSize": {"condition": {"test": "datum.value % 30 === 0", "value": 9}, "value": 5}, "labelFlush": true, "labelPadding": 7}},
                "y": {"field": "p", "type": "quantitative", "scale": {"domain": [0, 1000], "reverse": true, "nice": false, "zero": false}, "axis": null}
              },
              "layer": [
                {"data": {"name": "contours"}, "transform": [{"filter": "datum.panel === 'd'"}], "mark": {"type": "line", "color": "#444444", "strokeWidth": 1, "strokeDash": [1.5, 1.5]}, "encoding": {"detail": {"field": "line"}, "order": {"field": "seq", "type": "quantitative"}}},
                {"data": {"name": "labels"}, "transform": [{"filter": "datum.panel === 'd'"}], "mark": {"type": "text", "font": "Liberation Sans", "fontSize": 14, "color": "black"}, "encoding": {"text": {"field": "text"}, "angle": {"field": "angle", "type": "quantitative", "scale": null}}}
              ]
            }
          ]
        }
      ]
    }
  ]
}
